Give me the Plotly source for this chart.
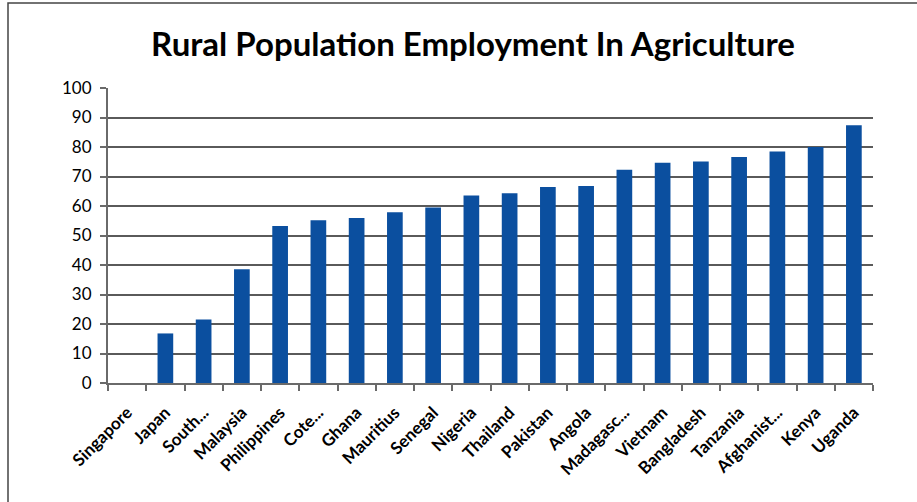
import plotly.graph_objects as go

countries = ["Singapore", "Japan", "South...", "Malaysia", "Philippines", "Cote...", "Ghana",
             "Mauritius", "Senegal", "Nigeria", "Thailand", "Pakistan", "Angola", "Madagasc...",
             "Vietnam", "Bangladesh", "Tanzania", "Afghanist...", "Kenya", "Uganda"]
values = [0, 16.8, 21.5, 38.6, 53.2, 55.2, 55.9, 57.9, 59.5, 63.6, 64.3, 66.4, 66.8, 72.3,
          74.7, 75.1, 76.6, 78.5, 80.0, 87.4]
y_ticks = [0, 10, 20, 30, 40, 50, 60, 70, 80, 90, 100]

FONT = "Lato"

fig = go.Figure(go.Bar(x=countries, y=values, marker=dict(color="#0B4F9F", line=dict(width=0)),
                       width=0.41, hoverinfo="skip"))

fig.update_layout(
    width=917, height=502,
    margin=dict(l=108, r=44, t=88, b=119),
    paper_bgcolor="white", plot_bgcolor="white",
    showlegend=False,
    title=dict(text="<b>Rural Population Employment In Agriculture</b>",
               x=473 / 917, xanchor="center", y=1 - 44 / 502, yanchor="middle",
               font=dict(family=FONT, size=33, color="black")),
    font=dict(family=FONT, color="black"),
)
fig.update_xaxes(
    tickangle=-45, tickfont=dict(family=FONT, size=17, color="black"),
    tickprefix="<b>", ticksuffix="</b>", ticklabelstandoff=11,
    showline=True, linecolor="#6a6a6a", linewidth=2,
    ticks="outside", ticklen=6, tickcolor="#6a6a6a", tickwidth=1.5,
    tickson="boundaries", showgrid=False, range=[-0.5, 19.5], automargin=False,
)
fig.update_yaxes(
    range=[0, 100], tickvals=y_ticks,
    tickfont=dict(family=FONT, size=17, color="black"), ticklabelstandoff=5,
    showline=True, linecolor="#6a6a6a", linewidth=2,
    ticks="outside", ticklen=6, tickcolor="#6a6a6a", tickwidth=1.5,
    showgrid=True, gridcolor="#5a5a5a", gridwidth=1.5, zeroline=False, automargin=False,
)

fig.add_shape(type="rect", xref="paper", yref="paper",
              x0=(8 - 108) / 765, x1=(930 - 108) / 765,
              y0=(383 - 520) / 295, y1=(383 - 3) / 295,
              line=dict(color="#444444", width=1.5), layer="below")

fig.write_html("out.html", config={"displayModeBar": False},
               post_script="document.body.style.margin='0';")
